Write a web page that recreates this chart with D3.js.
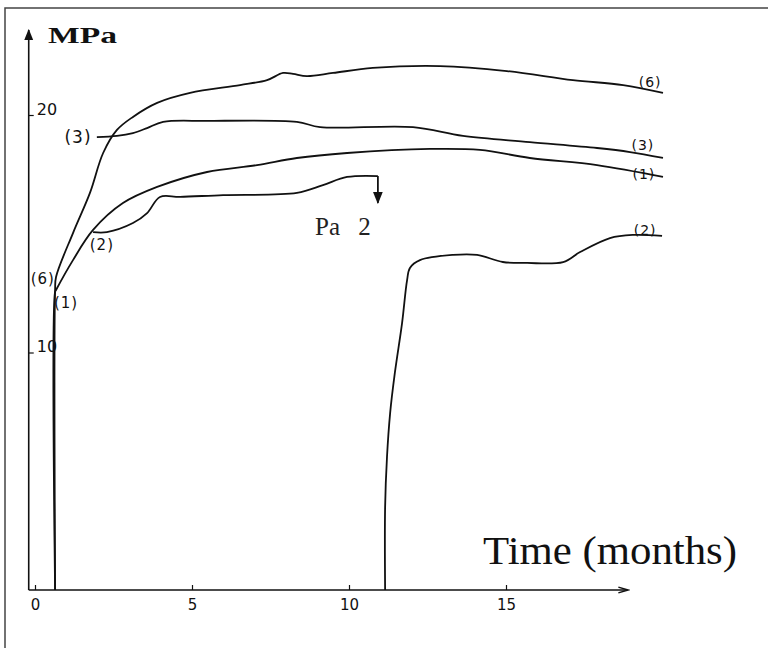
<!DOCTYPE html>
<html>
<head>
<meta charset="utf-8">
<script src="https://cdn.jsdelivr.net/npm/d3@7"></script>
<style>
  body { margin: 0; background: #fff; }
  svg { display: block; }
</style>
</head>
<body>
<svg id="chart" width="768" height="648"></svg>
<script>
// values: [month, MPa]
const curve6 = [[0.64, 0], [0.64, 12.63], [0.67, 13.18], [1.21, 15.03], [1.75, 16.72], [2.17, 18.4], [2.61, 19.37],
  [3.12, 19.92], [3.89, 20.51], [4.94, 20.93], [6.53, 21.26], [7.39, 21.47], [7.9, 21.77], [8.22, 21.73],
  [8.66, 21.64], [9.49, 21.77], [10.76, 21.98], [12.9, 22.06], [15.03, 21.85], [17.13, 21.47], [18.73, 21.26], [20.0, 20.93]]
const curve3 = [[1.97, 19.07], [2.61, 19.12], [3.12, 19.24], [3.57, 19.45], [4.08, 19.71], [5.48, 19.75], [8.34, 19.71],
  [9.08, 19.49], [12.04, 19.49], [13.63, 19.12], [15.76, 18.86], [17.9, 18.61], [18.95, 18.44], [20.0, 18.19]]
const curve1 = [[0.64, 0], [0.64, 12.55], [0.67, 12.63], [1.21, 13.89], [1.85, 15.16], [2.8, 16.29], [3.89, 16.97],
  [5.48, 17.6], [7.07, 17.89], [8.34, 18.19], [9.94, 18.4], [12.58, 18.57], [14.17, 18.53], [15.76, 18.19],
  [17.9, 17.89], [20.0, 17.39]]
const curve2a = [[1.85, 15.07], [2.29, 15.07], [3.12, 15.45], [3.57, 15.87], [3.98, 16.55], [4.62, 16.55], [5.99, 16.63],
  [8.34, 16.72], [9.17, 17.05], [9.94, 17.39], [10.92, 17.43]]
const curve2b = [[11.15, 0], [11.15, 3.49], [11.21, 5.6], [11.31, 7.45], [11.46, 9.14], [11.69, 11.24], [11.85, 13.05],
  [11.94, 13.56], [12.26, 13.89], [13.31, 14.11], [14.08, 14.11], [14.9, 13.81], [15.67, 13.77], [16.82, 13.81],
  [17.36, 14.23], [18.31, 14.82], [19.04, 14.95], [19.97, 14.91]]
// Pa 2 stopped: arrow drops from the end of curve2a
const pa2Drop = [[10.92, 17.43], [10.92, 16.3]]

const xTicks = [0, 5, 10, 15]
const yTicks = [10, 20]

const curveLabels = [
  { text: '(6)', m: 19.59, v: 21.39 },
  { text: '(3)', m: 19.36, v: 18.74 },
  { text: '(1)', m: 19.39, v: 17.52 },
  { text: '(2)', m: 19.43, v: 15.16 },
  { text: '(3)', m: 1.37, v: 19.07, size: 17 },
  { text: '(6)', m: 0.25, v: 13.09, size: 15 },
  { text: '(1)', m: 0.99, v: 12.08, size: 15 },
  { text: '(2)', m: 2.13, v: 14.53, size: 15 },
]

const svg = d3.select('#chart')
const x = d3.scaleLinear().domain([0, 15]).range([35, 506])
const y = d3.scaleLinear().domain([0, 20]).range([590, 115])
const ink = '#111'

// scan frame (only top and left edges show)
svg.append('path').attr('d', 'M5,648V8H768').attr('fill', 'none').attr('stroke', '#444').attr('stroke-width', 1.5)

const defs = svg.append('defs')
defs.append('marker').attr('id', 'head').attr('viewBox', '0 0 10 10').attr('refX', 9).attr('refY', 5)
  .attr('markerWidth', 7).attr('markerHeight', 7).attr('orient', 'auto')
  .append('path').attr('d', 'M0,1L10,5L0,9Z').attr('fill', ink)
defs.append('marker').attr('id', 'open').attr('viewBox', '0 0 10 10').attr('refX', 9).attr('refY', 5)
  .attr('markerWidth', 9).attr('markerHeight', 6).attr('orient', 'auto')
  .append('path').attr('d', 'M0,2L10,5L0,8').attr('fill', 'none').attr('stroke', ink).attr('stroke-width', 1.5)

// axes lines with arrows
const axisX0 = x(-0.2)
svg.append('line').attr('x1', axisX0).attr('y1', y(0)).attr('x2', 627).attr('y2', y(0))
  .attr('stroke', ink).attr('stroke-width', 1.6).attr('marker-end', 'url(#open)')
svg.append('line').attr('x1', axisX0).attr('y1', y(0)).attr('x2', axisX0).attr('y2', 30)
  .attr('stroke', ink).attr('stroke-width', 1.6).attr('marker-end', 'url(#head)')

const xAxis = d3.axisBottom(x).tickValues(xTicks).tickSize(-5).tickPadding(9)
svg.append('g').attr('transform', `translate(0,${y(0)})`).call(xAxis)
  .call(g => g.select('.domain').remove())
  .call(g => g.selectAll('.tick line').attr('stroke', ink).attr('stroke-width', 1.2))
  .call(g => g.selectAll('.tick text').attr('font-family', 'DejaVu Sans').attr('font-size', 15).attr('fill', ink))

const yAxis = d3.axisRight(y).tickValues(yTicks).tickSize(5).tickPadding(3)
svg.append('g').attr('transform', `translate(${axisX0},0)`).call(yAxis)
  .call(g => g.select('.domain').remove())
  .call(g => g.selectAll('.tick line').attr('stroke', ink).attr('stroke-width', 1.2))
  .call(g => g.selectAll('.tick text').attr('font-family', 'DejaVu Sans').attr('font-size', 16)
    .attr('fill', ink).attr('dy', '-0.05em'))

svg.append('text').attr('x', 48).attr('y', 43).text('MPa')
  .attr('font-family', 'Liberation Serif').attr('font-weight', 'bold').attr('font-size', 23)
  .attr('textLength', 69).attr('lengthAdjust', 'spacingAndGlyphs').attr('fill', ink)

// curves
const line = d3.line().x(d => x(d[0])).y(d => y(d[1])).curve(d3.curveCatmullRom.alpha(0.5))
;[curve6, curve3, curve1, curve2a, curve2b].forEach(function (c) {
  svg.append('path').attr('d', line(c)).attr('fill', 'none').attr('stroke', ink).attr('stroke-width', 1.8)
})
svg.append('line').attr('x1', x(pa2Drop[0][0])).attr('y1', y(pa2Drop[0][1]))
  .attr('x2', x(pa2Drop[1][0])).attr('y2', y(pa2Drop[1][1]))
  .attr('stroke', ink).attr('stroke-width', 1.8).attr('marker-end', 'url(#head)')

// labels
curveLabels.forEach(function (l) {
  svg.append('text').attr('x', x(l.m)).attr('y', y(l.v)).text(l.text)
    .attr('text-anchor', 'middle').attr('dominant-baseline', 'central')
    .attr('font-family', 'DejaVu Sans').attr('font-size', l.size || 14)
    .attr('letter-spacing', 1).attr('fill', ink)
})

svg.append('text').attr('x', 315).attr('y', 235).text('Pa 2')
  .attr('font-family', 'Liberation Serif').attr('font-size', 25).attr('fill', '#222')
  .attr('word-spacing', 12)

svg.append('text').attr('x', 483).attr('y', 564).text('Time (months)')
  .attr('font-family', 'Liberation Serif').attr('font-size', 40).attr('fill', ink)
  .attr('textLength', 254).attr('lengthAdjust', 'spacingAndGlyphs')
</script>
</body>
</html>
